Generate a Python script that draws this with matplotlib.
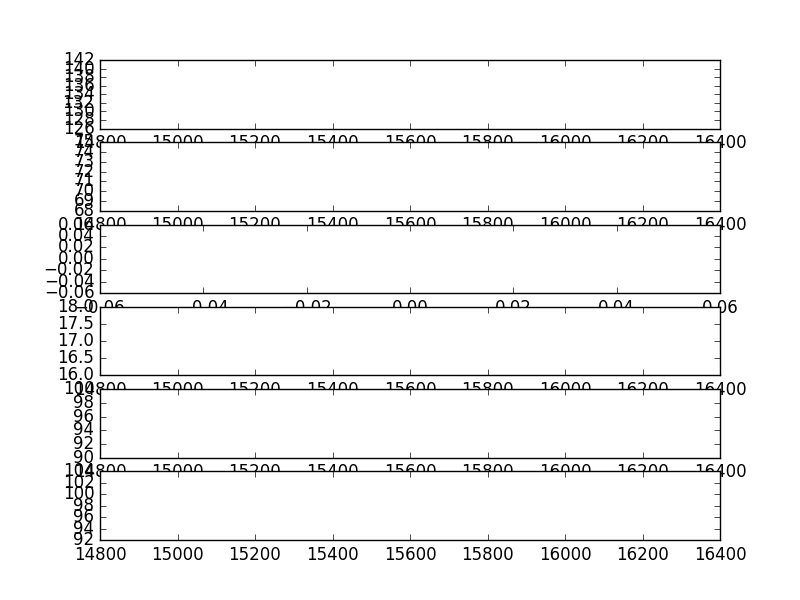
import matplotlib
matplotlib.use("Agg")
import matplotlib.pyplot as plt

plt.style.use("classic")

# axis ranges of the six (empty) panels
x_range = [14800, 16400]
y_ranges = [
    [126, 142],
    [68, 75],
    [-0.06, 0.06],
    [16, 18],
    [90, 100],
    [92, 104],
]
# third panel never got data, so its x axis keeps the default range
empty_panel = 2
empty_x_range = [-0.06, 0.06]

fig, axes = plt.subplots(6, 1, figsize=(8, 6), dpi=100)

for i, ax in enumerate(axes):
    if i == empty_panel:
        ax.set_xlim(empty_x_range)
    else:
        ax.set_xlim(x_range)
    ax.set_ylim(y_ranges[i])
    ax.ticklabel_format(useOffset=False)

fig.savefig("out.png", dpi=100)
